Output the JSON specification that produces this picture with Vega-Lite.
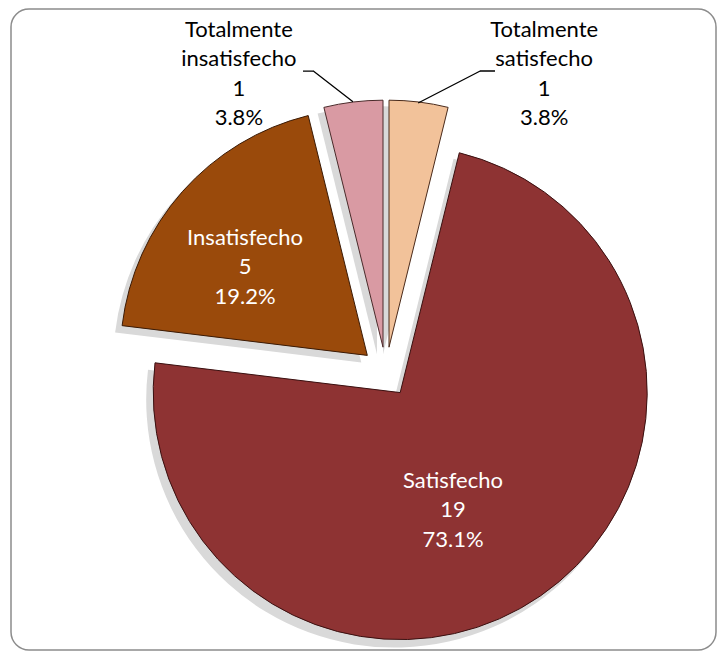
{
  "$schema": "https://vega.github.io/schema/vega-lite/v6.json",
  "width": 705,
  "height": 641,
  "autosize": "none",
  "padding": {"left": 11, "top": 9, "right": 11, "bottom": 1},
  "background": "white",
  "config": {
    "view": {"stroke": null},
    "text": {"font": "Lato"}
  },
  "data": {
    "values": [
      {"category": "Totalmente satisfecho", "count": 1, "order": 1},
      {"category": "Satisfecho", "count": 19, "order": 2},
      {"category": "Insatisfecho", "count": 5, "order": 3},
      {"category": "Totalmente insatisfecho", "count": 1, "order": 4}
    ]
  },
  "transform": [
    {"stack": "count", "groupby": [], "sort": [{"field": "order", "order": "ascending"}], "offset": "normalize", "as": ["start", "end"]},
    {"joinaggregate": [{"op": "sum", "field": "count", "as": "total"}]},
    {"calculate": "(datum.start + datum.end) / 2", "as": "mid"},
    {"calculate": "replace(datum.category, ' ', '\\n') + '\\n' + datum.count + '\\n' + format(datum.count / datum.total, '.1%')", "as": "label"}
  ],
  "layer": [
    {
      "transform": [{"filter": "datum.order === 1"}],
      "mark": {"type": "rect", "fill": null, "stroke": "#8c8c8c", "strokeWidth": 1.5, "cornerRadius": 18},
      "encoding": {}
    },
    {
      "transform": [{"filter": "datum.category === 'Totalmente satisfecho'"}],
      "mark": {"type": "arc", "radius": 248, "fill": "#d9d9d9", "xOffset": 19.5, "yOffset": 24.7},
      "encoding": {"theta": {"field": "start", "type": "quantitative", "scale": {"domain": [0, 1]}}, "theta2": {"field": "end"}}
    },
    {
      "transform": [{"filter": "datum.category === 'Satisfecho'"}],
      "mark": {"type": "arc", "radius": 248, "fill": "#d9d9d9", "xOffset": 30.7, "yOffset": 70.1},
      "encoding": {"theta": {"field": "start", "type": "quantitative", "scale": {"domain": [0, 1]}}, "theta2": {"field": "end"}}
    },
    {
      "transform": [{"filter": "datum.category === 'Insatisfecho'"}],
      "mark": {"type": "arc", "radius": 248, "fill": "#d9d9d9", "xOffset": -2.2, "yOffset": 32.9},
      "encoding": {"theta": {"field": "start", "type": "quantitative", "scale": {"domain": [0, 1]}}, "theta2": {"field": "end"}}
    },
    {
      "transform": [{"filter": "datum.category === 'Totalmente insatisfecho'"}],
      "mark": {"type": "arc", "radius": 248, "fill": "#d9d9d9", "xOffset": 13.5, "yOffset": 24.7},
      "encoding": {"theta": {"field": "start", "type": "quantitative", "scale": {"domain": [0, 1]}}, "theta2": {"field": "end"}}
    },
    {
      "transform": [{"filter": "datum.category === 'Totalmente satisfecho'"}],
      "mark": {"type": "arc", "radius": 247, "stroke": "#4a2a1a", "strokeWidth": 1, "xOffset": 25.5, "yOffset": 17.7},
      "encoding": {
        "theta": {"field": "start", "type": "quantitative", "scale": {"domain": [0, 1]}},
        "theta2": {"field": "end"},
        "color": {"field": "category", "type": "nominal", "legend": null, "scale": {"domain": ["Totalmente satisfecho", "Satisfecho", "Insatisfecho", "Totalmente insatisfecho"], "range": ["#F2C29A", "#8E3333", "#9A4A0B", "#D99AA3"]}}
      }
    },
    {
      "transform": [{"filter": "datum.category === 'Satisfecho'"}],
      "mark": {"type": "arc", "radius": 247, "stroke": "#3a1010", "strokeWidth": 1, "xOffset": 36.7, "yOffset": 63.1},
      "encoding": {
        "theta": {"field": "start", "type": "quantitative", "scale": {"domain": [0, 1]}},
        "theta2": {"field": "end"},
        "color": {"field": "category", "type": "nominal", "legend": null}
      }
    },
    {
      "transform": [{"filter": "datum.category === 'Insatisfecho'"}],
      "mark": {"type": "arc", "radius": 247, "stroke": "#3a1a05", "strokeWidth": 1, "xOffset": 3.8, "yOffset": 25.9},
      "encoding": {
        "theta": {"field": "start", "type": "quantitative", "scale": {"domain": [0, 1]}},
        "theta2": {"field": "end"},
        "color": {"field": "category", "type": "nominal", "legend": null}
      }
    },
    {
      "transform": [{"filter": "datum.category === 'Totalmente insatisfecho'"}],
      "mark": {"type": "arc", "radius": 247, "stroke": "#4a2a2a", "strokeWidth": 1, "xOffset": 19.5, "yOffset": 17.7},
      "encoding": {
        "theta": {"field": "start", "type": "quantitative", "scale": {"domain": [0, 1]}},
        "theta2": {"field": "end"},
        "color": {"field": "category", "type": "nominal", "legend": null}
      }
    },
    {
      "transform": [{"filter": "datum.category === 'Totalmente insatisfecho'"}],
      "mark": {"type": "arc", "radius": 297.6, "radius2": 247, "thetaOffset": -0.790, "theta2Offset": -0.790, "filled": false, "stroke": "#000000", "strokeWidth": 1.3, "xOffset": 184.6, "yOffset": -76.3},
      "encoding": {"theta": {"field": "mid", "type": "quantitative", "scale": {"domain": [0, 1]}}, "theta2": {"field": "mid"}}
    },
    {
      "transform": [{"filter": "datum.category === 'Totalmente insatisfecho'"}],
      "mark": {"type": "arc", "radius": 257, "radius2": 247, "thetaOffset": -1.4504, "theta2Offset": -1.4504, "filled": false, "stroke": "#000000", "strokeWidth": 1.3, "xOffset": 196.5, "yOffset": -258.5},
      "encoding": {"theta": {"field": "mid", "type": "quantitative", "scale": {"domain": [0, 1]}}, "theta2": {"field": "mid"}}
    },
    {
      "transform": [{"filter": "datum.category === 'Totalmente satisfecho'"}],
      "mark": {"type": "arc", "radius": 316.8, "radius2": 247, "thetaOffset": 0.974, "theta2Offset": 0.974, "filled": false, "stroke": "#000000", "strokeWidth": 1.3, "xOffset": -164.9, "yOffset": -113.3},
      "encoding": {"theta": {"field": "mid", "type": "quantitative", "scale": {"domain": [0, 1]}}, "theta2": {"field": "mid"}}
    },
    {
      "transform": [{"filter": "datum.category === 'Totalmente satisfecho'"}],
      "mark": {"type": "arc", "radius": 262, "radius2": 247, "thetaOffset": 1.450, "theta2Offset": 1.450, "filled": false, "stroke": "#000000", "strokeWidth": 1.3, "xOffset": -130.5, "yOffset": -258.5},
      "encoding": {"theta": {"field": "mid", "type": "quantitative", "scale": {"domain": [0, 1]}}, "theta2": {"field": "mid"}}
    },
    {
      "transform": [{"filter": "datum.category === 'Satisfecho'"}],
      "mark": {"type": "text", "radius": 150, "dx": 4.3, "dy": 28, "fontSize": 22, "lineBreak": "\n", "lineHeight": 29.5, "fill": "#ffffff", "align": "center", "baseline": "middle"},
      "encoding": {"theta": {"field": "mid", "type": "quantitative", "scale": {"domain": [0, 1]}}, "text": {"field": "label"}}
    },
    {
      "transform": [{"filter": "datum.category === 'Insatisfecho'"}],
      "mark": {"type": "text", "radius": 150, "dx": -6.2, "dy": 7.9, "fontSize": 22, "lineBreak": "\n", "lineHeight": 29.5, "fill": "#ffffff", "align": "center", "baseline": "middle"},
      "encoding": {"theta": {"field": "mid", "type": "quantitative", "scale": {"domain": [0, 1]}}, "text": {"field": "label"}}
    },
    {
      "transform": [{"filter": "datum.category === 'Totalmente insatisfecho'"}],
      "mark": {"type": "text", "radius": 290, "dx": -89.7, "dy": -11.8, "fontSize": 22, "lineBreak": "\n", "lineHeight": 29.5, "fill": "#000000", "align": "center", "baseline": "middle"},
      "encoding": {"theta": {"field": "mid", "type": "quantitative", "scale": {"domain": [0, 1]}}, "text": {"field": "label"}}
    },
    {
      "transform": [{"filter": "datum.category === 'Totalmente satisfecho'"}],
      "mark": {"type": "text", "radius": 290, "dx": 145.7, "dy": -11.8, "fontSize": 22, "lineBreak": "\n", "lineHeight": 29.5, "fill": "#000000", "align": "center", "baseline": "middle"},
      "encoding": {"theta": {"field": "mid", "type": "quantitative", "scale": {"domain": [0, 1]}}, "text": {"field": "label"}}
    }
  ]
}
